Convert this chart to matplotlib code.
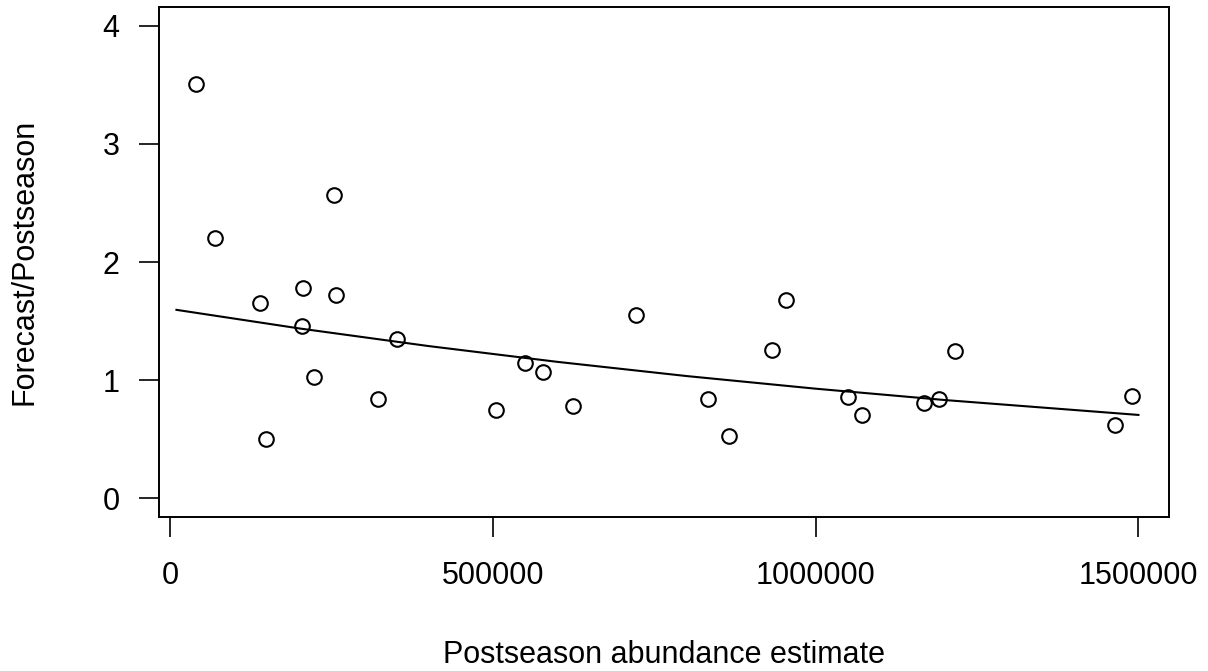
"""Forecast/Postseason ratio against postseason abundance."""
import matplotlib
matplotlib.use("Agg")
import matplotlib.pyplot as plt

# scatter points
abundance = [40900, 69300, 139500, 148800, 205700, 204600, 223200, 253700,
             257300, 321500, 351400, 504800, 550200, 577200, 623700, 721800,
             832900, 865900, 933000, 954700, 1050800, 1071600, 1167100,
             1190900, 1215700, 1464200, 1490100]
ratio = [3.51, 2.20, 1.65, 0.50, 1.78, 1.46, 1.03, 2.57, 1.72, 0.84, 1.35,
         0.75, 1.15, 1.07, 0.78, 1.55, 0.84, 0.53, 1.26, 1.68, 0.86, 0.71,
         0.81, 0.84, 1.25, 0.62, 0.87]

# fitted trend line, read at a few places along the curve
fit_x = [10000, 200000, 400000, 600000, 800000, 1000000, 1200000, 1500000]
fit_y = [1.596, 1.439, 1.290, 1.156, 1.036, 0.929, 0.833, 0.707]

xticks = [0, 500000, 1000000, 1500000]
yticks = [0, 1, 2, 3, 4]


def main():
    plt.rcParams["font.family"] = ["Liberation Sans", "DejaVu Sans"]
    fig = plt.figure(figsize=(12.08, 6.71), dpi=100)
    ax = fig.add_axes([0.1316, 0.2289, 0.9681 - 0.1316, 0.9899 - 0.2289])

    ax.plot(abundance, ratio, "o", ms=10.5, mfc="none", mec="black", mew=1.5)
    ax.plot(fit_x, fit_y, color="black", lw=1.5)

    r = max(abundance) - min(abundance)
    ax.set_xlim(min(abundance) - 0.04 * r, max(abundance) + 0.04 * r)
    ax.set_ylim(-0.16, 4.16)

    ax.set_xticks(xticks)
    ax.set_xticklabels([str(t) for t in xticks])
    ax.set_yticks(yticks)
    ax.set_yticklabels([str(t) for t in yticks])
    ax.tick_params(axis="both", direction="out", length=14.4, width=1.2,
                   labelsize=22, colors="black")
    ax.tick_params(axis="x", pad=17)
    ax.tick_params(axis="y", pad=14)
    for s in ax.spines.values():
        s.set_linewidth(1.4)

    fig.text(664 / 1208, 1 - 662.7 / 671, "Postseason abundance estimate",
             ha="center", va="baseline", fontsize=22)
    fig.text(39.5 / 1208, 1 - 262 / 671, "Forecast/Postseason", rotation=90,
             ha="right", va="center", fontsize=22)

    fig.savefig("out.png", dpi=100)


if __name__ == "__main__":
    main()
